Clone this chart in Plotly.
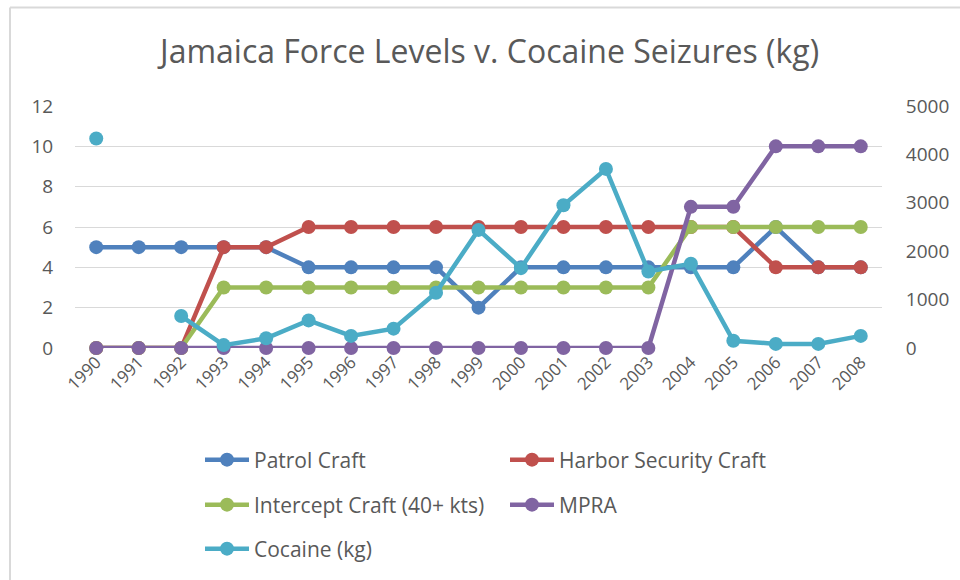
import plotly.graph_objects as go

years = [str(y) for y in range(1990, 2009)]

patrol_craft = [5, 5, 5, 5, 5, 4, 4, 4, 4, 2, 4, 4, 4, 4, 4, 4, 6, 4, 4]
harbor_security = [0, 0, 0, 5, 5, 6, 6, 6, 6, 6, 6, 6, 6, 6, 6, 6, 4, 4, 4]
intercept_craft = [0, 0, 0, 3, 3, 3, 3, 3, 3, 3, 3, 3, 3, 3, 6, 6, 6, 6, 6]
mpra = [0, 0, 0, 0, 0, 0, 0, 0, 0, 0, 0, 0, 0, 0, 7, 7, 10, 10, 10]
cocaine_kg = [4330, None, 660, 60, 200, 570, 250, 400, 1140, 2440, 1650,
              2950, 3700, 1580, 1740, 150, 85, 85, 250]

left_ticks = [0, 2, 4, 6, 8, 10, 12]
right_ticks = [0, 1000, 2000, 3000, 4000, 5000]

W, H = 960, 580
ML, MR, MT, MB = 75, 78, 106, 231
PW, PH = W - ML - MR, H - MT - MB


def px_x(x):
    return (x - ML) / PW


def px_y(y):
    return (H - MB - y) / PH


FONT = "Open Sans"
GREY = "#595959"

series = [
    ("Patrol Craft", patrol_craft, "#4F81BD", "y", "legend"),
    ("Harbor Security Craft", harbor_security, "#C0504D", "y", "legend"),
    ("Intercept Craft (40+ kts)", intercept_craft, "#9BBB59", "y", "legend2"),
    ("MPRA", mpra, "#8064A2", "y", "legend2"),
    ("Cocaine (kg)", cocaine_kg, "#4BACC6", "y2", "legend3"),
]

fig = go.Figure()
for name, vals, color, yax, leg in series:
    fig.add_trace(go.Scatter(
        x=years, y=vals, name=name, yaxis=yax, legend=leg,
        mode="lines+markers", connectgaps=False, cliponaxis=False,
        line=dict(color=color, width=4.5),
        marker=dict(color=color, size=14),
    ))

legend_common = dict(
    orientation="h", xanchor="left", yanchor="middle",
    font=dict(family=FONT, size=21, color=GREY),
    bgcolor="rgba(0,0,0,0)", entrywidth=246, entrywidthmode="pixels",
    itemwidth=44, itemclick=False, itemdoubleclick=False,
)

fig.update_layout(
    width=W, height=H,
    margin=dict(l=ML, r=MR, t=MT, b=MB, pad=0),
    paper_bgcolor="white", plot_bgcolor="white",
    title=dict(
        text="Jamaica Force Levels v. Cocaine Seizures (kg)",
        x=0.51, xanchor="center", y=1 - 52 / H, yanchor="middle",
        font=dict(family=FONT, size=32, color=GREY),
    ),
    xaxis=dict(
        type="category", range=[-0.5, len(years) - 0.5],
        tickangle=-45, showgrid=False, zeroline=False,
        showline=False, ticks="",
        tickfont=dict(family=FONT, size=17, color=GREY),
    ),
    yaxis=dict(
        range=[0, 12], tickvals=left_ticks, showgrid=True,
        gridcolor="#D9D9D9", gridwidth=1.3, zeroline=False, showline=False,
        ticks="outside", ticklen=17, tickcolor="rgba(0,0,0,0)",
        tickfont=dict(family=FONT, size=19, color=GREY),
    ),
    yaxis2=dict(
        range=[0, 5000], tickvals=right_ticks, overlaying="y", side="right",
        showgrid=False, zeroline=False, showline=False,
        ticks="outside", ticklen=19, tickcolor="rgba(0,0,0,0)",
        tickfont=dict(family=FONT, size=19, color=GREY),
    ),
    legend=dict(x=px_x(200), y=px_y(460), **legend_common),
    legend2=dict(x=px_x(200), y=px_y(505), **legend_common),
    legend3=dict(x=px_x(200), y=px_y(549), **legend_common),
    showlegend=True,
    shapes=[
        dict(type="line", xref="paper", yref="paper",
             x0=px_x(10), x1=px_x(W + 5), y0=px_y(7), y1=px_y(7),
             line=dict(color="#D9D9D9", width=2)),
        dict(type="line", xref="paper", yref="paper",
             x0=px_x(10), x1=px_x(10), y0=px_y(7), y1=px_y(H + 5),
             line=dict(color="#D9D9D9", width=2)),
    ],
)

fig.write_html("out.html")
